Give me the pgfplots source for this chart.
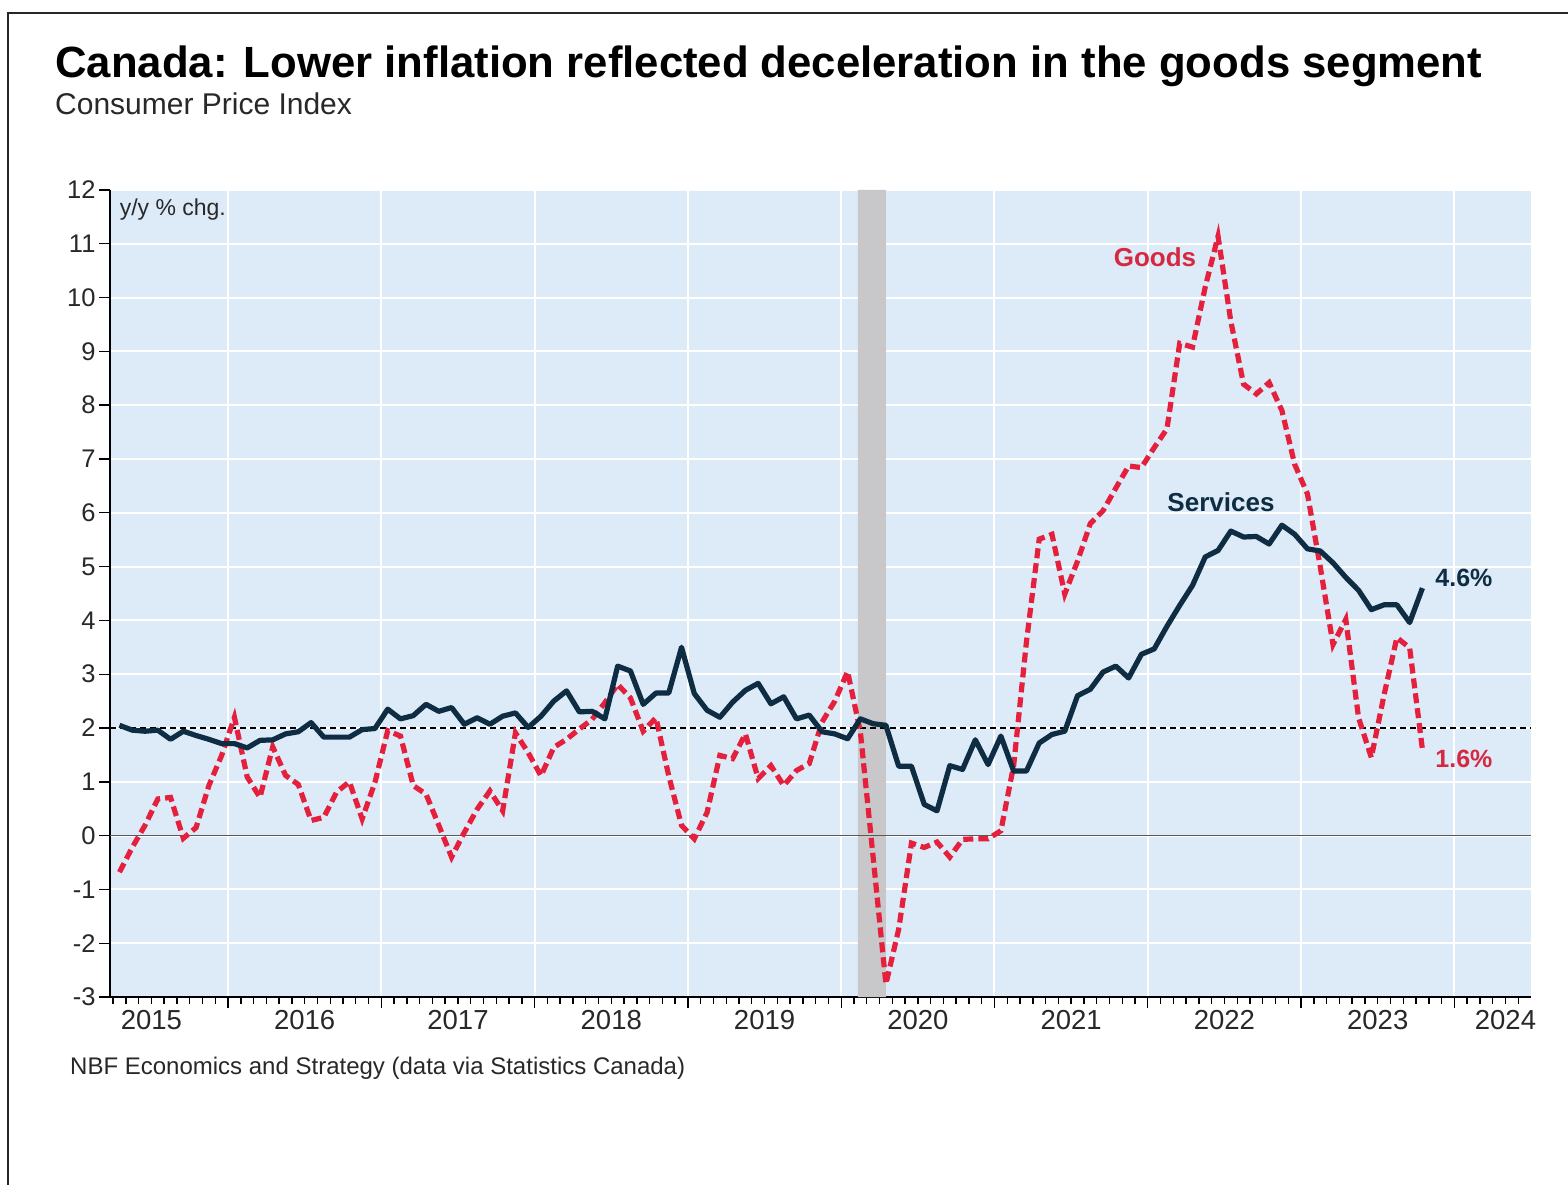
\documentclass[border=0pt]{standalone}
\usepackage{fontspec}
\setmainfont{Liberation Sans}
\usepackage{pgfplots}
\usepackage{pgfplotstable}
\pgfplotsset{compat=1.18}
\usetikzlibrary{backgrounds}

\definecolor{bgblue}{RGB}{221,234,248}
\definecolor{servnavy}{RGB}{14,44,66}
\definecolor{goodsred}{RGB}{228,32,60}
\definecolor{labred}{RGB}{214,40,62}
\definecolor{recgray}{RGB}{200,200,202}
\definecolor{txtgray}{RGB}{40,40,40}

% x = months since Jan 2015 (mid-month), services and goods y/y %
\pgfplotstableread{
x serv goods
3.5 2.05 -0.68
4.5 1.96 -0.22
5.5 1.94 0.19
6.5 1.96 0.68
7.5 1.79 0.71
8.5 1.94 -0.05
9.5 1.86 0.15
10.5 1.79 0.93
11.5 1.71 1.49
12.5 1.71 2.20
13.5 1.63 1.09
14.5 1.77 0.71
15.5 1.78 1.65
16.5 1.89 1.12
17.5 1.93 0.95
18.5 2.10 0.28
19.5 1.83 0.34
20.5 1.83 0.81
21.5 1.83 1.00
22.5 1.97 0.31
23.5 1.99 0.99
24.5 2.35 1.95
25.5 2.17 1.85
26.5 2.23 0.93
27.5 2.44 0.77
28.5 2.31 0.19
29.5 2.38 -0.40
30.5 2.07 0.06
31.5 2.19 0.49
32.5 2.07 0.83
33.5 2.22 0.46
34.5 2.28 1.91
35.5 2.01 1.54
36.5 2.22 1.11
37.5 2.50 1.64
38.5 2.69 1.79
39.5 2.30 1.98
40.5 2.31 2.16
41.5 2.17 2.47
42.5 3.15 2.81
43.5 3.06 2.56
44.5 2.44 1.94
45.5 2.65 2.19
46.5 2.65 1.11
47.5 3.50 0.19
48.5 2.64 -0.06
49.5 2.33 0.43
50.5 2.20 1.49
51.5 2.48 1.43
52.5 2.70 1.89
53.5 2.83 1.06
54.5 2.45 1.30
55.5 2.58 0.93
56.5 2.17 1.21
57.5 2.24 1.34
58.5 1.93 2.11
59.5 1.89 2.50
60.5 1.80 3.05
61.5 2.17 1.93
62.5 2.08 -0.40
63.5 2.05 -2.76
64.5 1.29 -1.74
65.5 1.29 -0.14
66.5 0.58 -0.22
67.5 0.46 -0.12
68.5 1.30 -0.40
69.5 1.23 -0.07
70.5 1.78 -0.06
71.5 1.32 -0.06
72.5 1.85 0.09
73.5 1.20 1.30
74.5 1.20 3.60
75.5 1.72 5.51
76.5 1.88 5.60
77.5 1.94 4.49
78.5 2.60 5.10
79.5 2.72 5.80
80.5 3.04 6.04
81.5 3.15 6.46
82.5 2.93 6.87
83.5 3.37 6.84
84.5 3.47 7.21
85.5 3.89 7.56
86.5 4.28 9.15
87.5 4.65 9.08
88.5 5.18 10.20
89.5 5.30 11.14
90.5 5.66 9.56
91.5 5.55 8.39
92.5 5.56 8.21
93.5 5.42 8.42
94.5 5.77 7.90
95.5 5.60 6.90
96.5 5.33 6.35
97.5 5.29 5.00
98.5 5.07 3.55
99.5 4.80 4.02
100.5 4.56 2.19
101.5 4.20 1.45
102.5 4.29 2.62
103.5 4.29 3.68
104.5 3.96 3.49
105.5 4.60 1.60
}\cpi

\begin{document}
\begin{tikzpicture}
\begin{axis}[
    name=ax,
    width=1421pt, height=807pt, scale only axis,
    xmin=2.76, xmax=114, ymin=-3, ymax=12,
    axis background/.style={fill=bgblue},
    axis x line*=bottom, axis y line*=left,
    axis line style={-, black, line width=1.6pt},
    tick align=outside,
    tick style={black, line width=1.4pt},
    major tick length=11pt, minor tick length=7pt,
    xtick={12,24,...,108}, xticklabels={},
    minor xtick={3,4,...,113},
    extra x ticks={6,18,30,42,54,66,78,90,102,112},
    extra x tick labels={2015,2016,2017,2018,2019,2020,2021,2022,2023,2024},
    extra x tick style={xmajorgrids=false, major tick length=0pt,
        tick label style={yshift=-10pt}},
    xticklabel style={font=\fontsize{27.5}{30}\selectfont, text=txtgray},
    ytick={-3,-2,...,12},
    yticklabels={-3,-2,-1,0,1,2,3,4,5,6,7,8,9,10,11,12},
    yticklabel style={font=\fontsize{25.5}{28}\selectfont, text=txtgray},
    xmajorgrids, ymajorgrids,
    major grid style={white, line width=2pt},
    clip=false,
]
% recession
\addplot[fill=recgray, draw=none] coordinates {(61.3,-3) (63.5,-3) (63.5,12) (61.3,12)} \closedcycle;
% reference lines
\addplot[black!65, line width=1.4pt] coordinates {(2.76,0) (114,0)};
\addplot[black, line width=1.5pt, dash pattern=on 6pt off 4pt] coordinates {(2.76,2) (114,2)};
% series
\addplot[goodsred, line width=5.2pt, dash pattern=on 10pt off 5pt] table[x=x, y=goods] {\cpi};
\addplot[servnavy, line width=5.2pt, line join=round] table[x=x, y=serv] {\cpi};

\node[anchor=west, text=txtgray, font=\fontsize{23}{26}\selectfont] at (axis cs:3.25,11.63) {y/y \% chg.};
\node[text=labred, font=\fontsize{26}{29}\selectfont\bfseries] at (axis cs:84.56,10.75) {Goods};
\node[text=servnavy, font=\fontsize{26}{29}\selectfont\bfseries] at (axis cs:89.73,6.19) {Services};
\node[text=servnavy, font=\fontsize{25}{28}\selectfont\bfseries] at (axis cs:108.75,4.79) {4.6\%};
\node[text=labred, font=\fontsize{25}{28}\selectfont\bfseries] at (axis cs:108.75,1.42) {1.6\%};
\end{axis}

% page frame in image pixels, origin = image bottom-left
\coordinate (O) at ([shift={(-110pt,-187pt)}]ax.south west);
\pgfresetboundingbox
\path[use as bounding box] (O) rectangle ++(1568pt,1184pt);
\begin{scope}[on background layer]
\fill[white] (O) rectangle ++(1568pt,1184pt);
\end{scope}
\draw[line width=2.5pt, black!85] ([shift={(8pt,-5pt)}]O) -- ([shift={(8pt,1171pt)}]O) -- ([shift={(1575pt,1171pt)}]O);

\node[anchor=base west, inner sep=0pt, font=\fontsize{43.7}{48}\selectfont\bfseries] at ([shift={(55pt,1106pt)}]O)
  {Canada: Lower inflation reflected deceleration in the goods segment};
\node[anchor=base west, inner sep=0pt, text=txtgray, font=\fontsize{30}{34}\selectfont] at ([shift={(55pt,1069pt)}]O)
  {Consumer Price Index};
\node[anchor=base west, inner sep=0pt, text=txtgray, font=\fontsize{24}{28}\selectfont] at ([shift={(70pt,110pt)}]O)
  {NBF Economics and Strategy (data via Statistics Canada)};
\end{tikzpicture}
\end{document}
